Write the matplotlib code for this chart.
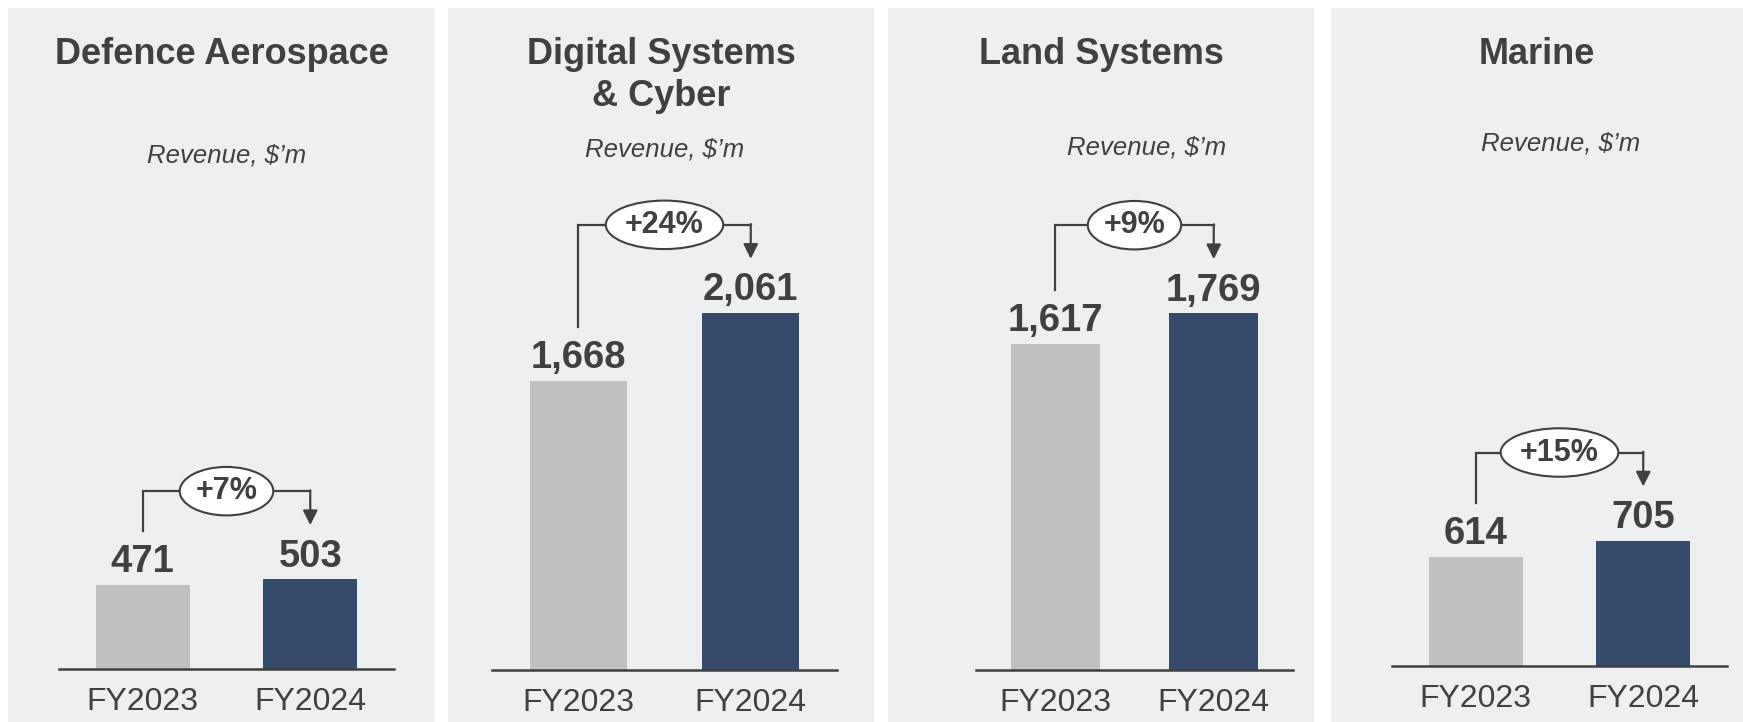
import matplotlib.pyplot as plt
from matplotlib.patches import Rectangle

plt.rcParams["font.family"] = ["Liberation Sans", "DejaVu Sans"]

# Daten
segments = ["Defence Aerospace", "Digital Systems\n& Cyber", "Land Systems", "Marine"]
years = ["FY2023", "FY2024"]
rev_fy23 = [471, 1668, 1617, 614]
rev_fy24 = [503, 2061, 1769, 705]
growth = ["+7%", "+24%", "+9%", "+15%"]
value_labels_23 = ["471", "1,668", "1,617", "614"]
value_labels_24 = ["503", "2,061", "1,769", "705"]

# Layout (Pixel, Ursprung oben links)
W, H = 1743, 722
panels = [(8, 435), (448, 874), (888, 1314), (1331, 1743)]
axes_px = [(59, 394, 669), (492, 837, 670), (976, 1293, 670), (1392, 1727, 666)]
px_per_unit = [0.1786, 0.1733, 0.2017, 0.178]
sub_pos = [(227, 163), (665, 157), (1147, 155), (1561, 151)]
ax_top = 100

DARK = "#404040"
GREY = "#C0C0C0"
NAVY = "#364B6B"
BG = "#EEEFF1"

fig = plt.figure(figsize=(W / 100, H / 100), dpi=100)
fig.patch.set_facecolor("white")


def fx(px):
    return px / W


def fy(py):
    return 1 - py / H


for i, seg in enumerate(segments):
    left, right = panels[i]
    fig.patches.append(Rectangle((fx(left), 0), fx(right - left), fy(8),
                                 transform=fig.transFigure, facecolor=BG,
                                 edgecolor="none", zorder=-5))
    cx = (left + right) / 2

    # Titel
    for j, line in enumerate(seg.split("\n")):
        fig.text(fx(cx), fy(64 + 42 * j), line, ha="center", va="baseline",
                 fontsize=26, fontweight="bold", color=DARK)
    sx, sy = sub_pos[i]
    fig.text(fx(sx), fy(sy), "Revenue, $\u2019m", ha="center", va="baseline",
             fontsize=18.5, fontstyle="italic", color=DARK)

    # Balken
    x0, x1, base = axes_px[i]
    h_px = base - ax_top
    ymax = h_px / px_per_unit[i]
    ax = fig.add_axes([fx(x0), fy(base), fx(x1 - x0), h_px / H])
    ax.set_facecolor("none")
    ax.set_xlim(-0.5, 1.5)
    ax.set_ylim(0, ymax)
    vals = [rev_fy23[i], rev_fy24[i]]
    ax.bar([0, 1], vals, width=0.56, color=[GREY, NAVY], zorder=2)
    for s in ["top", "right", "left"]:
        ax.spines[s].set_visible(False)
    ax.spines["bottom"].set_color(DARK)
    ax.spines["bottom"].set_linewidth(1.8)
    ax.set_yticks([])
    ax.set_xticks([0, 1])
    ax.set_xticklabels(years, fontsize=23, color=DARK)
    ax.tick_params(axis="x", length=0, pad=13)

    for xi, v, lab in zip([0, 1], vals, [value_labels_23[i], value_labels_24[i]]):
        ax.annotate(lab, (xi, v), xytext=(0, 9), textcoords="offset points",
                    ha="center", va="baseline", fontsize=27.5, fontweight="bold",
                    color=DARK)

    # Wachstumspfeil
    d = ymax / h_px  # Dateneinheiten pro Pixel
    level = vals[1] + 88 * d
    ax.plot([0, 0, 1], [vals[0] + 54 * d, level, level], color=DARK, lw=1.6,
            zorder=3, solid_joinstyle="miter")
    ax.annotate("", xy=(1, vals[1] + 54 * d), xytext=(1, level + 0.8 * d),
                arrowprops=dict(arrowstyle="-|>", color=DARK, lw=1.6,
                                mutation_scale=22, shrinkA=0, shrinkB=0),
                zorder=3)
    ax.text(0.5, level, growth[i], ha="center", va="center", fontsize=22,
            fontweight="bold", color=DARK, zorder=5,
            bbox=dict(boxstyle="ellipse,pad=0.07", facecolor="white",
                      edgecolor=DARK, linewidth=1.5))

plt.savefig("out.png", dpi=100, facecolor="white")
